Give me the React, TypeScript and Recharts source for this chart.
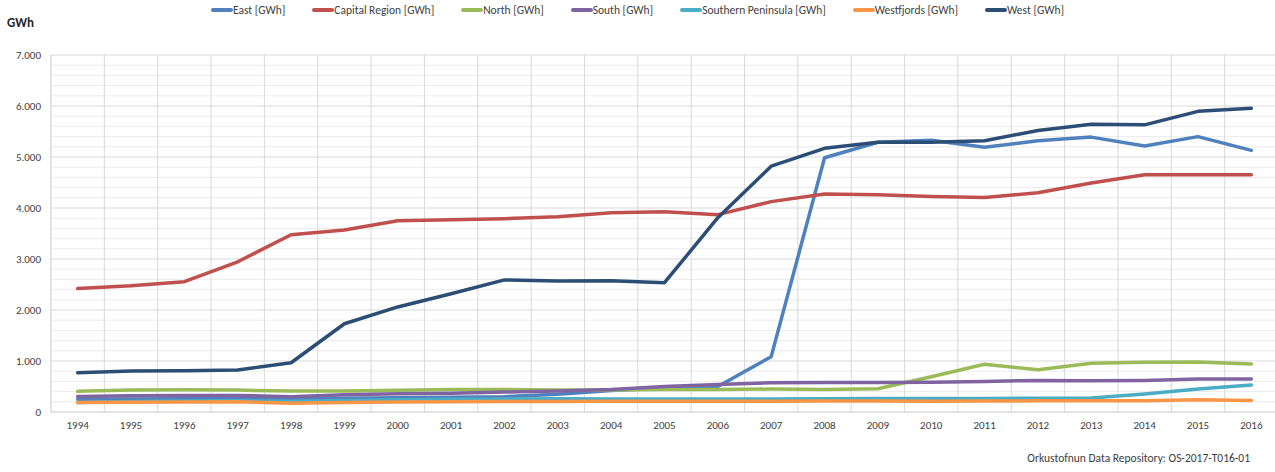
import { LineChart, Line, XAxis, YAxis, CartesianGrid } from 'recharts'

// Electricity use per region, 1994-2016 (GWh)
const years = ['1994', '1995', '1996', '1997', '1998', '1999', '2000', '2001', '2002', '2003', '2004', '2005', '2006', '2007', '2008', '2009', '2010', '2011', '2012', '2013', '2014', '2015', '2016']

const east = [250, 255, 260, 265, 255, 270, 280, 290, 300, 350, 420, 470, 500, 1085, 4985, 5290, 5330, 5190, 5320, 5390, 5215, 5400, 5130]
const capital = [2420, 2475, 2555, 2945, 3475, 3570, 3750, 3770, 3790, 3830, 3905, 3925, 3870, 4125, 4275, 4260, 4225, 4205, 4300, 4490, 4650, 4650, 4650]
const north = [405, 430, 435, 430, 410, 410, 425, 440, 440, 430, 430, 440, 440, 450, 440, 455, 690, 935, 830, 955, 975, 980, 940]
const south = [305, 320, 325, 325, 300, 340, 360, 370, 390, 410, 440, 500, 540, 575, 580, 580, 585, 600, 620, 615, 620, 645, 648]
const southernPeninsula = [185, 205, 215, 220, 210, 225, 240, 250, 255, 260, 255, 255, 255, 255, 260, 265, 265, 265, 270, 275, 355, 450, 530]
const westfjords = [185, 190, 195, 200, 170, 185, 195, 200, 205, 205, 210, 210, 210, 210, 215, 215, 210, 215, 220, 220, 220, 240, 225]
const west = [770, 805, 810, 825, 965, 1730, 2060, 2320, 2590, 2570, 2575, 2535, 3810, 4820, 5170, 5290, 5290, 5320, 5520, 5640, 5630, 5895, 5955]

const yTicks = [0, 1000, 2000, 3000, 4000, 5000, 6000, 7000]
const yMinor = [200, 400, 600, 800, 1200, 1400, 1600, 1800, 2200, 2400, 2600, 2800, 3200, 3400, 3600, 3800, 4200, 4400, 4600, 4800, 5200, 5400, 5600, 5800, 6200, 6400, 6600, 6800]

const series = [
  { key: 'east', name: 'East [GWh]', color: '#4f81bd', values: east },
  { key: 'capital', name: 'Capital Region [GWh]', color: '#c0504d', values: capital },
  { key: 'north', name: 'North [GWh]', color: '#9bbb59', values: north },
  { key: 'south', name: 'South [GWh]', color: '#8064a2', values: south },
  { key: 'sp', name: 'Southern Peninsula [GWh]', color: '#4bacc6', values: southernPeninsula },
  { key: 'wf', name: 'Westfjords [GWh]', color: '#f79646', values: westfjords },
  { key: 'west', name: 'West [GWh]', color: '#2c4d75', values: west },
]

const data = years.map((y, i) => {
  const row: Record<string, number | string> = { i, year: y }
  series.forEach(s => { row[s.key] = s.values[i] })
  return row
})

// gridlines sit between the years, like Excel does
const xTicks = years.map((_, i) => i)
const xBounds = [...years.map((_, i) => i - 0.5), years.length - 0.5]

const font = 'Calibri, Carlito, "Liberation Sans", Arial, sans-serif'
const fmt = (v: number) => v === 0 ? '0' : new Intl.NumberFormat('de-DE').format(v)

export default function App() {
  return (
    <div style={{ position: 'absolute', left: 0, top: 0, width: 1275, height: 472, overflow: 'hidden', background: '#fff', fontFamily: font }}>
      <div style={{ position: 'absolute', top: 3, left: 0, width: 1275, display: 'flex', justifyContent: 'center', gap: 27, fontSize: 11.5, color: '#404040' }}>
        {series.map(s => (
          <div key={s.key} style={{ display: 'flex', alignItems: 'center' }}>
            <span style={{ display: 'inline-block', width: 22, height: 4, borderRadius: 2, background: s.color }} />
            <span>{s.name}</span>
          </div>
        ))}
      </div>
      <div style={{ position: 'absolute', left: 7, top: 15, fontSize: 13, fontWeight: 'bold', color: '#262626' }}>GWh</div>

      <div style={{ position: 'absolute', left: 0, top: 0 }}>
        <LineChart width={1278} height={472} data={data} margin={{ top: 55, right: 0, bottom: 30, left: 6 }}>
          <CartesianGrid horizontalValues={yMinor} vertical={false} stroke="#ececec" strokeWidth={1} />
          <CartesianGrid horizontalValues={yTicks} verticalValues={xBounds} stroke="#d9d9d9" strokeWidth={1} />
          <XAxis
            dataKey="i"
            type="number"
            domain={[-0.5, years.length - 0.5]}
            ticks={xTicks}
            interval={0}
            tickFormatter={(v: number) => years[v]}
            tickLine={false}
            axisLine={{ stroke: '#d9d9d9' }}
            tickSize={0}
            tickMargin={9}
            height={30}
            tick={{ fontSize: 11, fill: '#404040', fontFamily: font }}
          />
          <YAxis
            domain={[0, 7000]}
            ticks={yTicks}
            interval={0}
            tickFormatter={fmt}
            tickLine={false}
            axisLine={{ stroke: '#d9d9d9' }}
            tickSize={0}
            tickMargin={10}
            width={45}
            tick={{ fontSize: 11, fill: '#404040', fontFamily: font }}
          />
          {series.map(s => (
            <Line
              key={s.key}
              dataKey={s.key}
              name={s.name}
              type="linear"
              stroke={s.color}
              strokeWidth={3.5}
              strokeLinecap="round"
              strokeLinejoin="round"
              dot={false}
              activeDot={false}
              isAnimationActive={false}
            />
          ))}
        </LineChart>
      </div>

      <div style={{ position: 'absolute', right: 25, top: 451, fontSize: 11.5, color: '#404040' }}>
        Orkustofnun Data Repository: OS-2017-T016-01
      </div>
    </div>
  )
}
